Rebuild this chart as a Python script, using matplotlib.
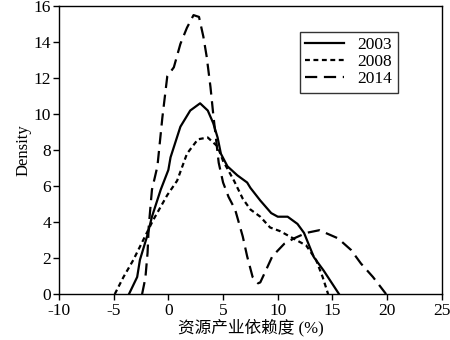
import matplotlib.pyplot as plt

plt.rcParams['font.family'] = ['Liberation Serif', 'Noto Sans CJK SC']
plt.rcParams['axes.unicode_minus'] = False

# 2003 (solid)
x_2003 = [-3.6, -2.85, -2.6, -1.95, -1.5, -0.7, 0.0, 0.2, 1.1, 2.0, 2.9, 3.6, 4.1, 4.5, 4.8, 5.4,
          6.3, 7.2, 7.5, 8.4, 9.4, 10.0, 10.9, 11.8, 12.4, 13.3, 14.2, 15.6]
y_2003 = [0.0, 0.95, 1.9, 3.2, 4.3, 5.8, 6.9, 7.6, 9.3, 10.2, 10.6, 10.2, 9.5, 8.7, 7.8, 7.1,
          6.6, 6.2, 5.9, 5.2, 4.5, 4.3, 4.3, 3.9, 3.4, 2.05, 1.3, 0.0]

# 2008 (short dash)
x_2008 = [-4.9, -4.1, -3.2, -2.3, -1.4, -0.1, 0.8, 1.7, 2.7, 3.6, 4.5, 5.0, 6.0, 6.8, 7.5, 8.4,
          9.3, 10.2, 11.4, 12.6, 13.5, 14.1, 14.6]
y_2008 = [0.0, 0.95, 1.9, 3.0, 4.1, 5.5, 6.3, 7.8, 8.6, 8.7, 8.2, 7.4, 6.3, 5.3, 4.7, 4.3,
          3.7, 3.5, 3.1, 2.7, 1.9, 0.95, 0.0]

# 2014 (long dash)
x_2014 = [-2.4, -2.1, -1.9, -1.8, -1.5, -1.0, -0.55, -0.1, 0.5, 1.1, 1.7, 2.3, 2.8, 3.2, 3.5, 3.85,
          4.1, 4.6, 5.0, 5.5, 6.1, 6.8, 7.2, 7.7, 8.2, 8.4, 8.9, 9.5, 10.6, 11.5, 12.6, 13.8,
          15.5, 16.7, 17.6, 18.7, 19.9]
y_2014 = [0.0, 0.9, 2.3, 3.7, 5.8, 7.1, 9.8, 12.1, 12.6, 13.9, 14.8, 15.5, 15.4, 14.3, 13.2, 11.5,
          10.0, 7.3, 6.2, 5.4, 4.7, 3.2, 2.1, 0.95, 0.6, 0.65, 1.3, 2.1, 2.8, 3.1, 3.4, 3.55,
          3.1, 2.45, 1.7, 0.95, 0.0]

x_ticks = [-10, -5, 0, 5, 10, 15, 20, 25]
y_ticks = [0, 2, 4, 6, 8, 10, 12, 14, 16]

fig = plt.figure(figsize=(4.5, 3.4), dpi=100)
ax = fig.add_axes([0.131, 0.135, 0.851, 0.847])

ax.plot(x_2003, y_2003, color='black', lw=1.6, linestyle='-', label='2003')
ax.plot(x_2008, y_2008, color='black', lw=1.6, linestyle=(0, (2.2, 1.6)), label='2008')
ax.plot(x_2014, y_2014, color='black', lw=1.6, linestyle=(0, (5.5, 3)), label='2014')

ax.set_xlim(-10, 25)
ax.set_ylim(0, 16)
ax.set_xticks(x_ticks)
ax.set_yticks(y_ticks)
ax.tick_params(direction='out', length=4, width=1, labelsize=12.5)
ax.tick_params(axis='x', pad=2.5)
ax.tick_params(axis='y', pad=1.5)
for s in ax.spines.values():
    s.set_linewidth(1)

ax.set_xlabel('资源产业依赖度 (%)', fontsize=12, labelpad=0)
ax.set_ylabel('Density', fontsize=12, labelpad=2)

leg = ax.legend(loc='upper left', bbox_to_anchor=(0.63, 0.91), fontsize=12.5, frameon=True,
                fancybox=False, edgecolor='black', handlelength=2.2, borderpad=0.3,
                labelspacing=0.05, handletextpad=0.8, borderaxespad=0)
leg.get_frame().set_linewidth(1)

fig.savefig('out.png', dpi=100)
